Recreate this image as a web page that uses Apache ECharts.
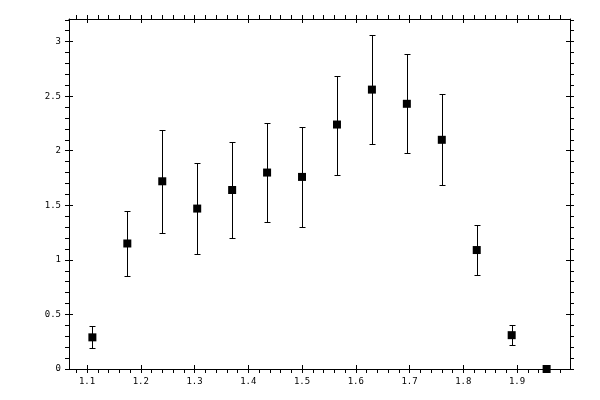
<!DOCTYPE html>
<html>
<head>
<meta charset="utf-8">
<script src="https://cdn.jsdelivr.net/npm/echarts@6/dist/echarts.min.js"></script>
<style>html,body{margin:0;padding:0;background:#fff}#c{width:600px;height:400px}</style>
</head>
<body>
<div id="c"></div>
<script>
// ---- data ----
const xValues = [1.11, 1.175, 1.24, 1.305, 1.37, 1.435, 1.5, 1.565, 1.63, 1.695, 1.76, 1.825, 1.89, 1.955];
const yValues = [0.29, 1.15, 1.72, 1.47, 1.64, 1.80, 1.76, 2.24, 2.56, 2.43, 2.10, 1.09, 0.31, 0.0];
const yLower  = [0.193, 0.856, 1.248, 1.055, 1.202, 1.349, 1.303, 1.78, 2.064, 1.982, 1.688, 0.862, 0.223, 0.0];
const yUpper  = [0.391, 1.452, 2.193, 1.883, 2.083, 2.253, 2.22, 2.688, 3.058, 2.884, 2.523, 1.321, 0.404, 0.0];
// ---- tick labels ----
const xMajorTicks = [1.1, 1.2, 1.3, 1.4, 1.5, 1.6, 1.7, 1.8, 1.9];
const yMajorTicks = [0, 0.5, 1, 1.5, 2, 2.5, 3];
const xMinorStep = 0.02;
const yMinorStep = 0.1;

const X_MIN = 1.0665, X_MAX = 1.9985;
const Y_MIN = 0, Y_MAX = 3.207;

function allTicks(min, max, step) {
  const out = [];
  const start = Math.ceil(min / step - 1e-9);
  for (let k = start; k * step <= max + 1e-9; k++) out.push(Math.round(k * step * 1000) / 1000);
  return out;
}
const xAllTicks = allTicks(X_MIN, X_MAX, xMinorStep);
const yAllTicks = allTicks(Y_MIN, Y_MAX, yMinorStep);

const black = '#000';
const font = { fontFamily: 'DejaVu Sans Mono', fontSize: 9, color: black };

function xAxisDef(position, inner, labels) {
  return {
    type: 'value', gridIndex: 0, position: position, min: X_MIN, max: X_MAX,
    axisLine: { show: !inner, onZero: false, lineStyle: { color: black, width: 1 } },
    axisTick: { show: true, inside: inner, length: 4, customValues: inner ? xMajorTicks : xAllTicks,
                lineStyle: { color: black, width: 1 } },
    axisLabel: labels ? Object.assign({ show: true, margin: 8, customValues: xMajorTicks,
                formatter: v => String(Math.round(v * 10) / 10) }, font) : { show: false },
    splitLine: { show: false }
  };
}
function yAxisDef(position, inner, labels) {
  return {
    type: 'value', gridIndex: 0, position: position, min: Y_MIN, max: Y_MAX,
    axisLine: { show: !inner, onZero: false, lineStyle: { color: black, width: 1 } },
    axisTick: { show: true, inside: inner, length: 4, customValues: inner ? yMajorTicks : yAllTicks,
                lineStyle: { color: black, width: 1 } },
    axisLabel: labels ? Object.assign({ show: true, margin: 8, customValues: yMajorTicks,
                formatter: v => String(Math.round(v * 10) / 10) }, font) : { show: false },
    splitLine: { show: false }
  };
}

const points = xValues.map((x, i) => [x, yValues[i]]);
const bars = xValues.map((x, i) => [x, yLower[i], yUpper[i]]).filter(d => d[2] > d[1]);

const chart = echarts.init(document.getElementById('c'), null, { renderer: 'canvas' });
chart.setOption({
  backgroundColor: '#fff',
  animation: false,
  grid: { left: 69, top: 19, width: 501, height: 350, containLabel: false },
  xAxis: [
    xAxisDef('bottom', false, true),
    xAxisDef('bottom', true, false),
    xAxisDef('top', false, false),
    xAxisDef('top', true, false)
  ],
  yAxis: [
    yAxisDef('left', false, true),
    yAxisDef('left', true, false),
    yAxisDef('right', false, false),
    yAxisDef('right', true, false)
  ],
  series: [
    {
      type: 'custom',
      xAxisIndex: 0, yAxisIndex: 0,
      data: bars,
      clip: false,
      renderItem: function (params, api) {
        const x = api.value(0);
        const lo = api.coord([x, api.value(1)]);
        const hi = api.coord([x, api.value(2)]);
        const cx = Math.round(lo[0]) + 0.5;
        const yl = Math.round(lo[1]) + 0.5;
        const yh = Math.round(hi[1]) + 0.5;
        const w = 3;
        const style = { stroke: black, lineWidth: 1, fill: null };
        return {
          type: 'group',
          children: [
            { type: 'line', shape: { x1: cx, y1: yh, x2: cx, y2: yl }, style: style },
            { type: 'line', shape: { x1: cx - w, y1: yh, x2: cx + w, y2: yh }, style: style },
            { type: 'line', shape: { x1: cx - w, y1: yl, x2: cx + w, y2: yl }, style: style }
          ]
        };
      },
      z: 2
    },
    {
      type: 'scatter',
      xAxisIndex: 0, yAxisIndex: 0,
      data: points,
      symbol: 'rect',
      symbolSize: 8,
      clip: false,
      itemStyle: { color: black, opacity: 1 },
      emphasis: { disabled: true },
      z: 3
    }
  ]
});
</script>
</body>
</html>
